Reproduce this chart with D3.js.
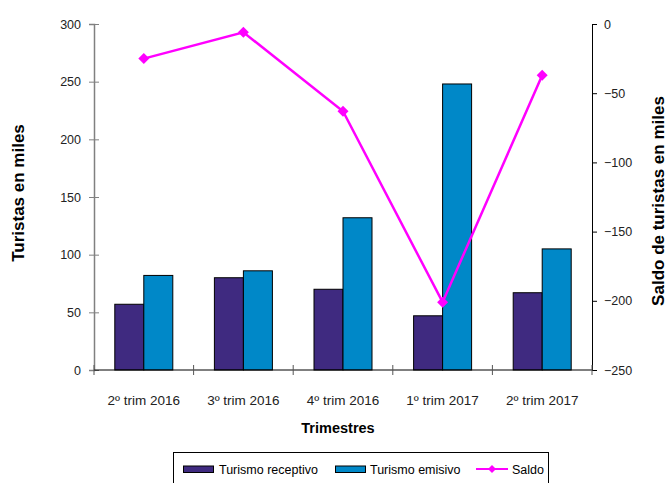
<!DOCTYPE html>
<html>
<head>
<meta charset="utf-8">
<script src="https://cdn.jsdelivr.net/npm/d3@7"></script>
<style>
  body { margin: 0; background: #fff; }
  svg { display: block; }
  text { font-family: "Liberation Sans", Arial, sans-serif; }
</style>
</head>
<body>
<svg width="669" height="483"></svg>
<script>
// trimestres y valores (miles de turistas)
var trimestres = ["2º trim 2016", "3º trim 2016", "4º trim 2016", "1º trim 2017", "2º trim 2017"];
var receptivo = [57, 80, 70, 47, 67];
var emisivo = [82, 86, 132, 248, 105];
var saldo = [-25, -6, -63, -201, -37];
var ticksIzq = [0, 50, 100, 150, 200, 250, 300];
var ticksDer = [0, -50, -100, -150, -200, -250];

var colRec = "#3f2a80", colEmi = "#0088c8", colSaldo = "#ff00ff";

var svg = d3.select("svg");
var mLeft = 94, mRight = 592, mTop = 24, mBottom = 370;

var x = d3.scaleBand().domain(trimestres).range([mLeft, mRight]);
var y = d3.scaleLinear().domain([0, 300]).range([mBottom, mTop]);
var y2 = d3.scaleLinear().domain([-250, 0]).range([mBottom, mTop]);
var barW = 29;

// barras
var g = svg.append("g");
trimestres.forEach(function (t, i) {
  var cx = x(t) + x.bandwidth() / 2;
  g.append("rect").attr("x", cx - barW).attr("y", y(receptivo[i]))
    .attr("width", barW).attr("height", y(0) - y(receptivo[i]))
    .attr("fill", colRec).attr("stroke", "#000").attr("stroke-width", 1);
  g.append("rect").attr("x", cx).attr("y", y(emisivo[i]))
    .attr("width", barW).attr("height", y(0) - y(emisivo[i]))
    .attr("fill", colEmi).attr("stroke", "#000").attr("stroke-width", 1);
});

// eje izquierdo
var axL = svg.append("g").attr("transform", "translate(" + mLeft + ",0)")
  .call(d3.axisLeft(y).tickValues(ticksIzq).tickSize(5).tickPadding(8));
axL.select(".domain").attr("stroke", "#808080").attr("stroke-width", 1.5);
axL.selectAll(".tick line").attr("x1", 5).attr("x2", -5).attr("stroke", "#808080");
axL.selectAll(".tick text").attr("font-size", 12.5).attr("fill", "#222")
  .attr("font-family", "'Liberation Sans', Arial, sans-serif");

// eje derecho
var axR = svg.append("g").attr("transform", "translate(" + mRight + ",0)")
  .call(d3.axisRight(y2).tickValues(ticksDer).tickSize(5).tickPadding(7));
axR.select(".domain").attr("stroke", "#000");
axR.selectAll(".tick text").attr("font-size", 12.5).attr("fill", "#222")
  .attr("font-family", "'Liberation Sans', Arial, sans-serif");

// eje x
svg.append("line").attr("x1", mLeft).attr("x2", mRight).attr("y1", mBottom).attr("y2", mBottom)
  .attr("stroke", "#000");
var bordes = trimestres.map(function (t) { return x(t); }).concat([mRight]);
svg.selectAll(".xt").data(bordes).enter().append("line")
  .attr("x1", function (d) { return d; }).attr("x2", function (d) { return d; })
  .attr("y1", mBottom - 5).attr("y2", mBottom + 5).attr("stroke", "#555");
svg.selectAll(".xl").data(trimestres).enter().append("text")
  .attr("x", function (d) { return x(d) + x.bandwidth() / 2; }).attr("y", 405)
  .attr("text-anchor", "middle").attr("font-size", 13.5)
  .attr("font-family", "'DejaVu Sans', sans-serif").attr("fill", "#222")
  .text(function (d) { return d; });

// linea saldo
var line = d3.line()
  .x(function (d, i) { return x(trimestres[i]) + x.bandwidth() / 2; })
  .y(function (d) { return y2(d); });
svg.append("path").datum(saldo).attr("d", line).attr("fill", "none")
  .attr("stroke", colSaldo).attr("stroke-width", 2.5);
svg.selectAll(".mk").data(saldo).enter().append("path")
  .attr("transform", function (d, i) {
    return "translate(" + (x(trimestres[i]) + x.bandwidth() / 2) + "," + y2(d) + ")";
  })
  .attr("d", "M0,-5.5L5.5,0L0,5.5L-5.5,0Z").attr("fill", colSaldo);

// titulos
svg.append("text").attr("x", 338).attr("y", 433).attr("text-anchor", "middle")
  .attr("font-size", 14.5).attr("font-weight", "bold").text("Trimestres");
svg.append("text").attr("transform", "translate(24,193) rotate(-90)")
  .attr("text-anchor", "middle").attr("font-size", 17).attr("font-weight", "bold")
  .text("Turistas en miles");
svg.append("text").attr("transform", "translate(664,201) rotate(-90)")
  .attr("text-anchor", "middle").attr("font-size", 17).attr("font-weight", "bold")
  .text("Saldo de turistas en miles");

// leyenda
var lg = svg.append("g");
lg.append("rect").attr("x", 173.5).attr("y", 452.5).attr("width", 375).attr("height", 40)
  .attr("fill", "#fff").attr("stroke", "#000");
lg.append("rect").attr("x", 183.5).attr("y", 466).attr("width", 30).attr("height", 6.5)
  .attr("fill", colRec).attr("stroke", "#000");
lg.append("text").attr("x", 219).attr("y", 473.5).attr("font-size", 12.5).text("Turismo receptivo");
lg.append("rect").attr("x", 335.5).attr("y", 466).attr("width", 30).attr("height", 6.5)
  .attr("fill", colEmi).attr("stroke", "#000");
lg.append("text").attr("x", 370).attr("y", 473.5).attr("font-size", 12.5).text("Turismo emisivo");
lg.append("line").attr("x1", 476).attr("x2", 508).attr("y1", 469).attr("y2", 469)
  .attr("stroke", colSaldo).attr("stroke-width", 2);
lg.append("path").attr("transform", "translate(492,469)")
  .attr("d", "M0,-4L4,0L0,4L-4,0Z").attr("fill", colSaldo);
lg.append("text").attr("x", 512).attr("y", 473.5).attr("font-size", 12.5).text("Saldo");
</script>
</body>
</html>
